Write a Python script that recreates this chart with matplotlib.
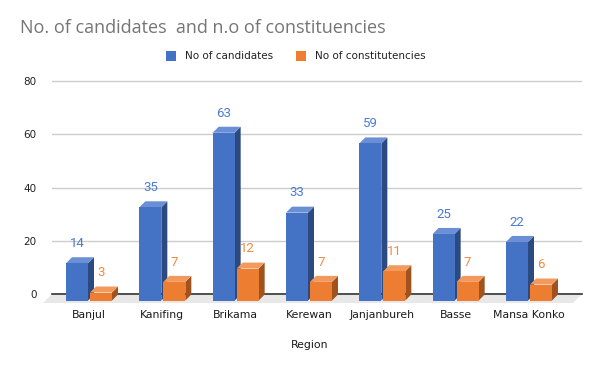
import matplotlib
matplotlib.use("Agg")
import matplotlib.pyplot as plt
from matplotlib.patches import Polygon, Patch

regions = ["Banjul", "Kanifing", "Brikama", "Kerewan", "Janjanbureh", "Basse", "Mansa Konko"]
candidates = [14, 35, 63, 33, 59, 25, 22]
constituencies = [3, 7, 12, 7, 11, 7, 6]
series_names = ["No of candidates", "No of constitutencies"]
y_ticks = [0, 20, 40, 60, 80]

W, H = 600, 371
fig = plt.figure(figsize=(W / 100, H / 100), dpi=100)

# plot area in pixels: x 52..582, value 0 at y=294, 80 at y=81
px_per_val = (294 - 81) / 80.0
top_px, bot_px = 60, 306
left_px, right_px = 52, 582
ax = fig.add_axes([left_px / W, 1 - bot_px / H, (right_px - left_px) / W, (bot_px - top_px) / H])
ax.set_ylim((294 - bot_px) / px_per_val, (294 - top_px) / px_per_val)
px_per_cat = (529 - 89) / 6.0
ax.set_xlim(-(89 - left_px) / px_per_cat, 6 + (right_px - 529) / px_per_cat)

for s in ax.spines.values():
    s.set_visible(False)
ax.set_yticks(y_ticks)
ax.set_yticklabels([str(v) for v in y_ticks])
ax.tick_params(axis="y", length=0, pad=11, labelsize=7.5, labelcolor="#222222")
ax.set_xticks(range(len(regions)))
ax.set_xticklabels(regions)
ax.tick_params(axis="x", length=0, pad=3, labelsize=7.8, labelcolor="#1a1a1a")
for lab in ax.get_xticklabels():
    lab.set_family("DejaVu Sans")
ax.yaxis.grid(True, color="#cccccc", linewidth=1)
ax.set_axisbelow(True)

# depth of the 3d effect
dx = 6 / px_per_cat
dy = 6 / px_per_val
off = 6.5 / px_per_val

# floor
x0, x1 = ax.get_xlim()
fdx = 9 / px_per_cat
fdy = 9 / px_per_val
ax.add_patch(Polygon([(x0, 0), (x1, 0), (x1 - fdx, -fdy), (x0 - fdx, -fdy)],
                     closed=True, facecolor="#e8e8e8", edgecolor="none", zorder=1, clip_on=False))
ax.plot([x0, x1], [0, 0], color="#333333", linewidth=1.2, zorder=2, clip_on=False)

colors = [("#4472c4", "#6a8fd4", "#2d4a80"), ("#ed7d31", "#f29a5d", "#a0521f")]
label_colors = ["#4a7bd0", "#ef8a45"]
bw = 22 / px_per_cat
gap = 1 / px_per_cat


def draw_bar(xl, v, cols):
    front, top, side = cols
    xr = xl + bw
    yb = -off
    yt = v - off
    ax.add_patch(Polygon([(xr, yb), (xr + dx, yb + dy), (xr + dx, yt + dy), (xr, yt)],
                         facecolor=side, edgecolor="none", zorder=3))
    ax.add_patch(Polygon([(xl, yt), (xr, yt), (xr + dx, yt + dy), (xl + dx, yt + dy)],
                         facecolor=top, edgecolor="none", zorder=3))
    ax.add_patch(Polygon([(xl, yb), (xr, yb), (xr, yt), (xl, yt)],
                         facecolor=front, edgecolor="none", zorder=3))


for i in range(len(regions)):
    for j, vals in enumerate([candidates, constituencies]):
        xl = i - gap - bw if j == 0 else i + gap
        draw_bar(xl, vals[i], colors[j])
        ax.annotate(str(vals[i]), (xl + bw / 2, vals[i]), xytext=(0, 9.5), textcoords="offset points",
                    ha="center", va="center", fontsize=9.5, color=label_colors[j], family="Roboto",
                    zorder=5)

fig.text(20 / W, 1 - 28 / H, "No. of candidates  and n.o of constituencies", ha="left", va="center",
         fontsize=13, color="#757575", family="Open Sans")
fig.text(310 / W, 1 - 345 / H, "Region", ha="center", va="center", fontsize=7.8, color="#1a1a1a",
         family="DejaVu Sans")

handles = [Patch(facecolor=colors[0][0], edgecolor="none"), Patch(facecolor=colors[1][0], edgecolor="none")]
fig.legend(handles, series_names, loc="center", bbox_to_anchor=(296 / W, 1 - 56 / H), ncol=2,
           frameon=False, fontsize=7.5, handlelength=0.9, handleheight=1.1, handletextpad=0.9,
           columnspacing=2.2, labelcolor="#222222")

fig.savefig("out.png", dpi=100)
